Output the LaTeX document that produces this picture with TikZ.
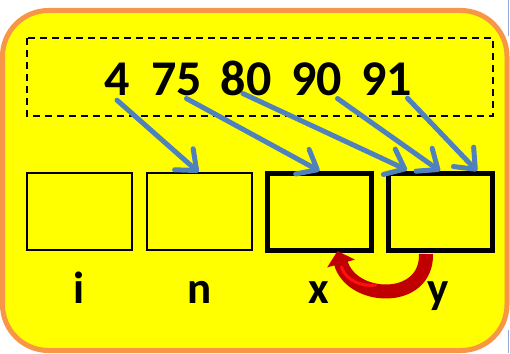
\documentclass[tikz,border=0pt]{standalone}
\usepackage{fontspec}
\setmainfont{Carlito}
\usetikzlibrary{arrows.meta,calc}
\definecolor{frameorange}{HTML}{F79646}
\definecolor{panelyellow}{HTML}{FFFF00}
\definecolor{linkblue}{HTML}{4F81BD}
\definecolor{edgeblue}{HTML}{8EA9D8}
\definecolor{swapred}{HTML}{C00000}
\definecolor{swaplight}{HTML}{FF1010}
\tikzset{
  numtext/.style={font=\fontsize{50}{50}\selectfont\bfseries, inner sep=0pt, anchor=base},
  lbltext/.style={font=\fontsize{45}{45}\selectfont\bfseries, inner sep=0pt, anchor=base},
  slot/.style={draw=black, line width=1.6pt, minimum width=105pt, minimum height=77pt, inner sep=0pt},
  slotbold/.style={draw=black, line width=5pt, minimum width=104pt, minimum height=77pt, inner sep=0pt},
  bluearrow/.style={draw=linkblue, line width=5pt, line cap=round,
    -{Straight Barb[length=17pt,width=28pt,line cap=round,round]}},
  redarrow/.style={draw=swapred, line width=14pt, -{Triangle[length=13pt,width=28pt]}},
}
\begin{document}
\begin{tikzpicture}[x=1pt,y=-1pt]
\useasboundingbox (0,0) rectangle (510,353);
% edge of the neighbouring shape
\draw[edgeblue, line width=1.5pt] (508.5,0) -- (508.5,36);
\draw[edgeblue, line width=1.5pt] (508.5,330) -- (508.5,353);
% panel
\draw[frameorange, fill=panelyellow, line width=5pt, rounded corners=46pt]
  (2.5,10.5) rectangle (507,350.5);
% dashed value strip
\draw[black, line width=1.8pt, dash pattern=on 7pt off 5pt] (27,38) rectangle (493,116);
% values
\node[numtext] (n4)  at (117,95)   {4};
\node[numtext] (n75) at (176.5,95) {75};
\node[numtext] (n80) at (246,95)   {80};
\node[numtext] (n90) at (316.5,95) {90};
\node[numtext] (n91) at (386.5,95) {91};
% variable slots
\node[slot]     (bi) at (79.5,211.5)  {};
\node[slot]     (bn) at (199.5,211.5) {};
\node[slotbold] (bx) at (319.5,212)   {};
\node[slotbold] (by) at (440,212)     {};
% variable names
\node[lbltext] (li) at (79,303)    {i};
\node[lbltext] (ln) at (199.5,303) {n};
\node[lbltext] (lx) at (319,303)   {x};
\node[lbltext] (ly) at (438,303)   {y};
% value links
\draw[bluearrow] ([yshift=-5pt]n4.south) -- ([xshift=-1pt]bn.north);
\draw[bluearrow] ([xshift=10pt,yshift=-3pt]n75.south) -- (bx.north);
\draw[bluearrow] ([xshift=-3pt,yshift=2pt]n80.south) -- ([xshift=-33pt,yshift=1pt]by.north);
\draw[bluearrow] ([xshift=21pt,yshift=-3pt]n90.south) -- (by.north);
\draw[bluearrow] ([xshift=21pt,yshift=-3pt]n91.south) -- ([xshift=37pt]by.north);
% swap arrow
\coordinate (swapstart) at ([xshift=-14pt,yshift=-1pt]by.south);
\coordinate (swapend) at ([xshift=18pt,yshift=2pt]bx.south);
\draw[redarrow] (swapstart) .. controls +(1,50) and +(14,50) .. (swapend);
\draw[swaplight, line width=3pt, line cap=round]
  ([xshift=4pt,yshift=-16pt]swapend) .. controls +(4,14) and +(-12,2) .. ([xshift=38pt,yshift=-34pt]swapend);
\end{tikzpicture}
\end{document}
